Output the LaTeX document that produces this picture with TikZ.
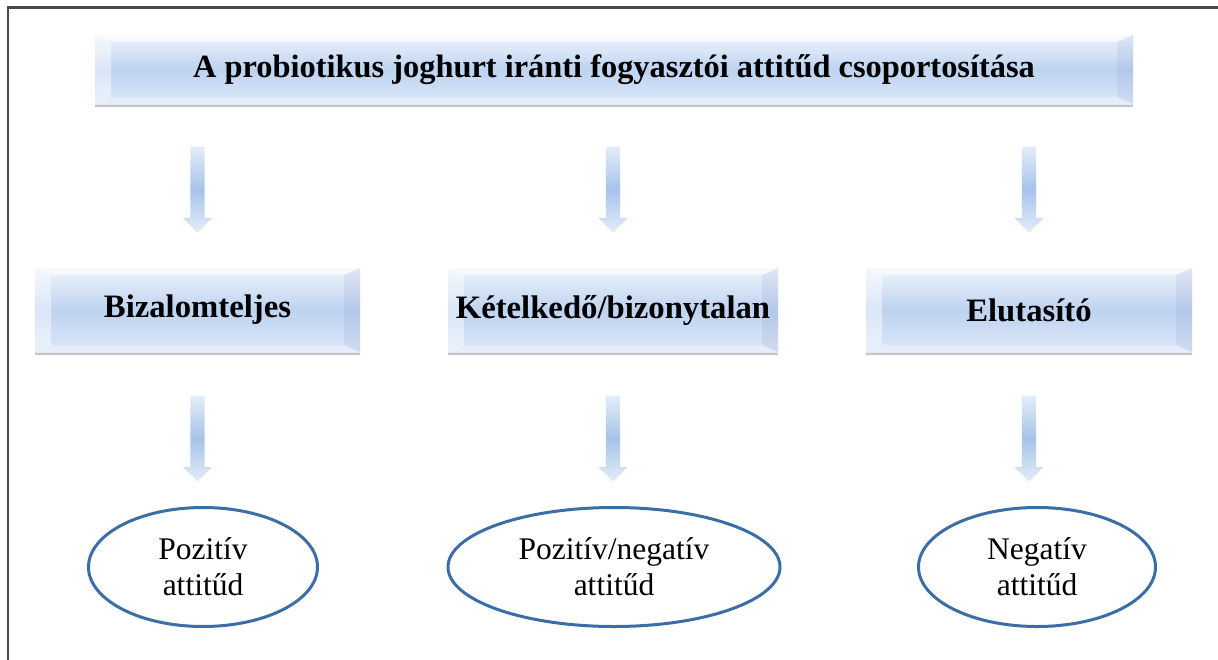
\documentclass[tikz,border=0pt]{standalone}
\usepackage{fontspec}
\setmainfont{Liberation Serif}
\usetikzlibrary{shapes.geometric,shapes.arrows,shadows}
\definecolor{boxtop}{HTML}{EEF4FC}
\definecolor{boxmid}{HTML}{BDD3F0}
\definecolor{boxbot}{HTML}{DCE8F7}
\definecolor{arredge}{HTML}{E4EDF8}
\definecolor{arrmid}{HTML}{A6C3EA}
\definecolor{ellblue}{HTML}{3B6EA5}
\definecolor{framegray}{HTML}{4A4A4A}
\tikzset{
  bevelbox/.style={inner sep=0pt, top color=boxtop, bottom color=boxbot, middle color=boxmid,
    drop shadow={shadow xshift=0pt, shadow yshift=-3pt, fill=black!45, opacity=0.5},
    path picture={
      \coordinate (pnw) at (path picture bounding box.north west);
      \coordinate (pne) at (path picture bounding box.north east);
      \coordinate (psw) at (path picture bounding box.south west);
      \coordinate (pse) at (path picture bounding box.south east);
      \fill[white,opacity=0.45] (pnw) -- (psw) -- ([xshift=16pt,yshift=7pt]psw) -- ([xshift=16pt,yshift=-7pt]pnw) -- cycle;
      \fill[white,opacity=0.6] (pnw) -- (pne) -- ([xshift=-16pt,yshift=-7pt]pne) -- ([xshift=16pt,yshift=-7pt]pnw) -- cycle;
      \fill[blue!40!gray,opacity=0.08] (pne) -- (pse) -- ([xshift=-16pt,yshift=7pt]pse) -- ([xshift=-16pt,yshift=-7pt]pne) -- cycle;
      \fill[white,opacity=0.3] (psw) -- (pse) -- ([xshift=-16pt,yshift=7pt]pse) -- ([xshift=16pt,yshift=7pt]psw) -- cycle;
    }},
  titletext/.style={font=\bfseries\fontsize{32.4}{36}\selectfont},
  boxtext/.style={font=\bfseries\fontsize{32.7}{36}\selectfont},
  attbubble/.style={ellipse, draw=ellblue, line width=3pt, fill=white, inner sep=0pt,
    minimum height=119pt, align=center, font=\fontsize{31.5}{36}\selectfont},
  downarrow/.style={single arrow, rotate=-90, inner xsep=0pt, inner ysep=7pt, minimum height=86pt,
    minimum width=29pt, single arrow head extend=7.5pt, single arrow head indent=0pt,
    top color=arredge, bottom color=arredge, middle color=arrmid, draw=none}
}
\begin{document}
\begin{tikzpicture}[x=1pt,y=-1pt]
\useasboundingbox (0,0) rectangle (1218,659);
\fill[white] (0,0) rectangle (1218,659);
\draw[framegray, line width=2.2pt] (8,662) -- (8,7.5) -- (1222,7.5);

\node[bevelbox, minimum width=1038pt, minimum height=69pt, titletext] (top) at (614,69.5)
  {A probiotikus joghurt iránti fogyasztói attitűd csoportosítása};

\node[bevelbox, minimum width=325pt, minimum height=84pt, boxtext] (b1) at (197.5,310) {Bizalomteljes};
\node[bevelbox, minimum width=330pt, minimum height=84pt, boxtext] (b2) at (613,310) {Kételkedő/bizonytalan};
\node[bevelbox, minimum width=326pt, minimum height=84pt, boxtext] (b3) at (1029,310) {Elutasító};

\node[attbubble, minimum width=229pt] (e1) at (203,567) {Pozitív\\attitűd};
\node[attbubble, minimum width=332pt] (e2) at (614,567) {Pozitív/negatív\\attitűd};
\node[attbubble, minimum width=237pt] (e3) at (1037,567) {Negatív\\attitűd};

\path (top.south -| b1) -- (b1.north) node[midway, downarrow] (a1) {};
\path (top.south -| b2) -- (b2.north) node[midway, downarrow] (a2) {};
\path (top.south -| b3) -- (b3.north) node[midway, downarrow] (a3) {};
\path (b1.south) -- (b1.south |- e1.north) node[midway, yshift=-6pt, downarrow] (a4) {};
\path (b2.south) -- (b2.south |- e2.north) node[midway, yshift=-6pt, downarrow] (a5) {};
\path (b3.south) -- (b3.south |- e3.north) node[midway, yshift=-6pt, downarrow] (a6) {};
\end{tikzpicture}
\end{document}
